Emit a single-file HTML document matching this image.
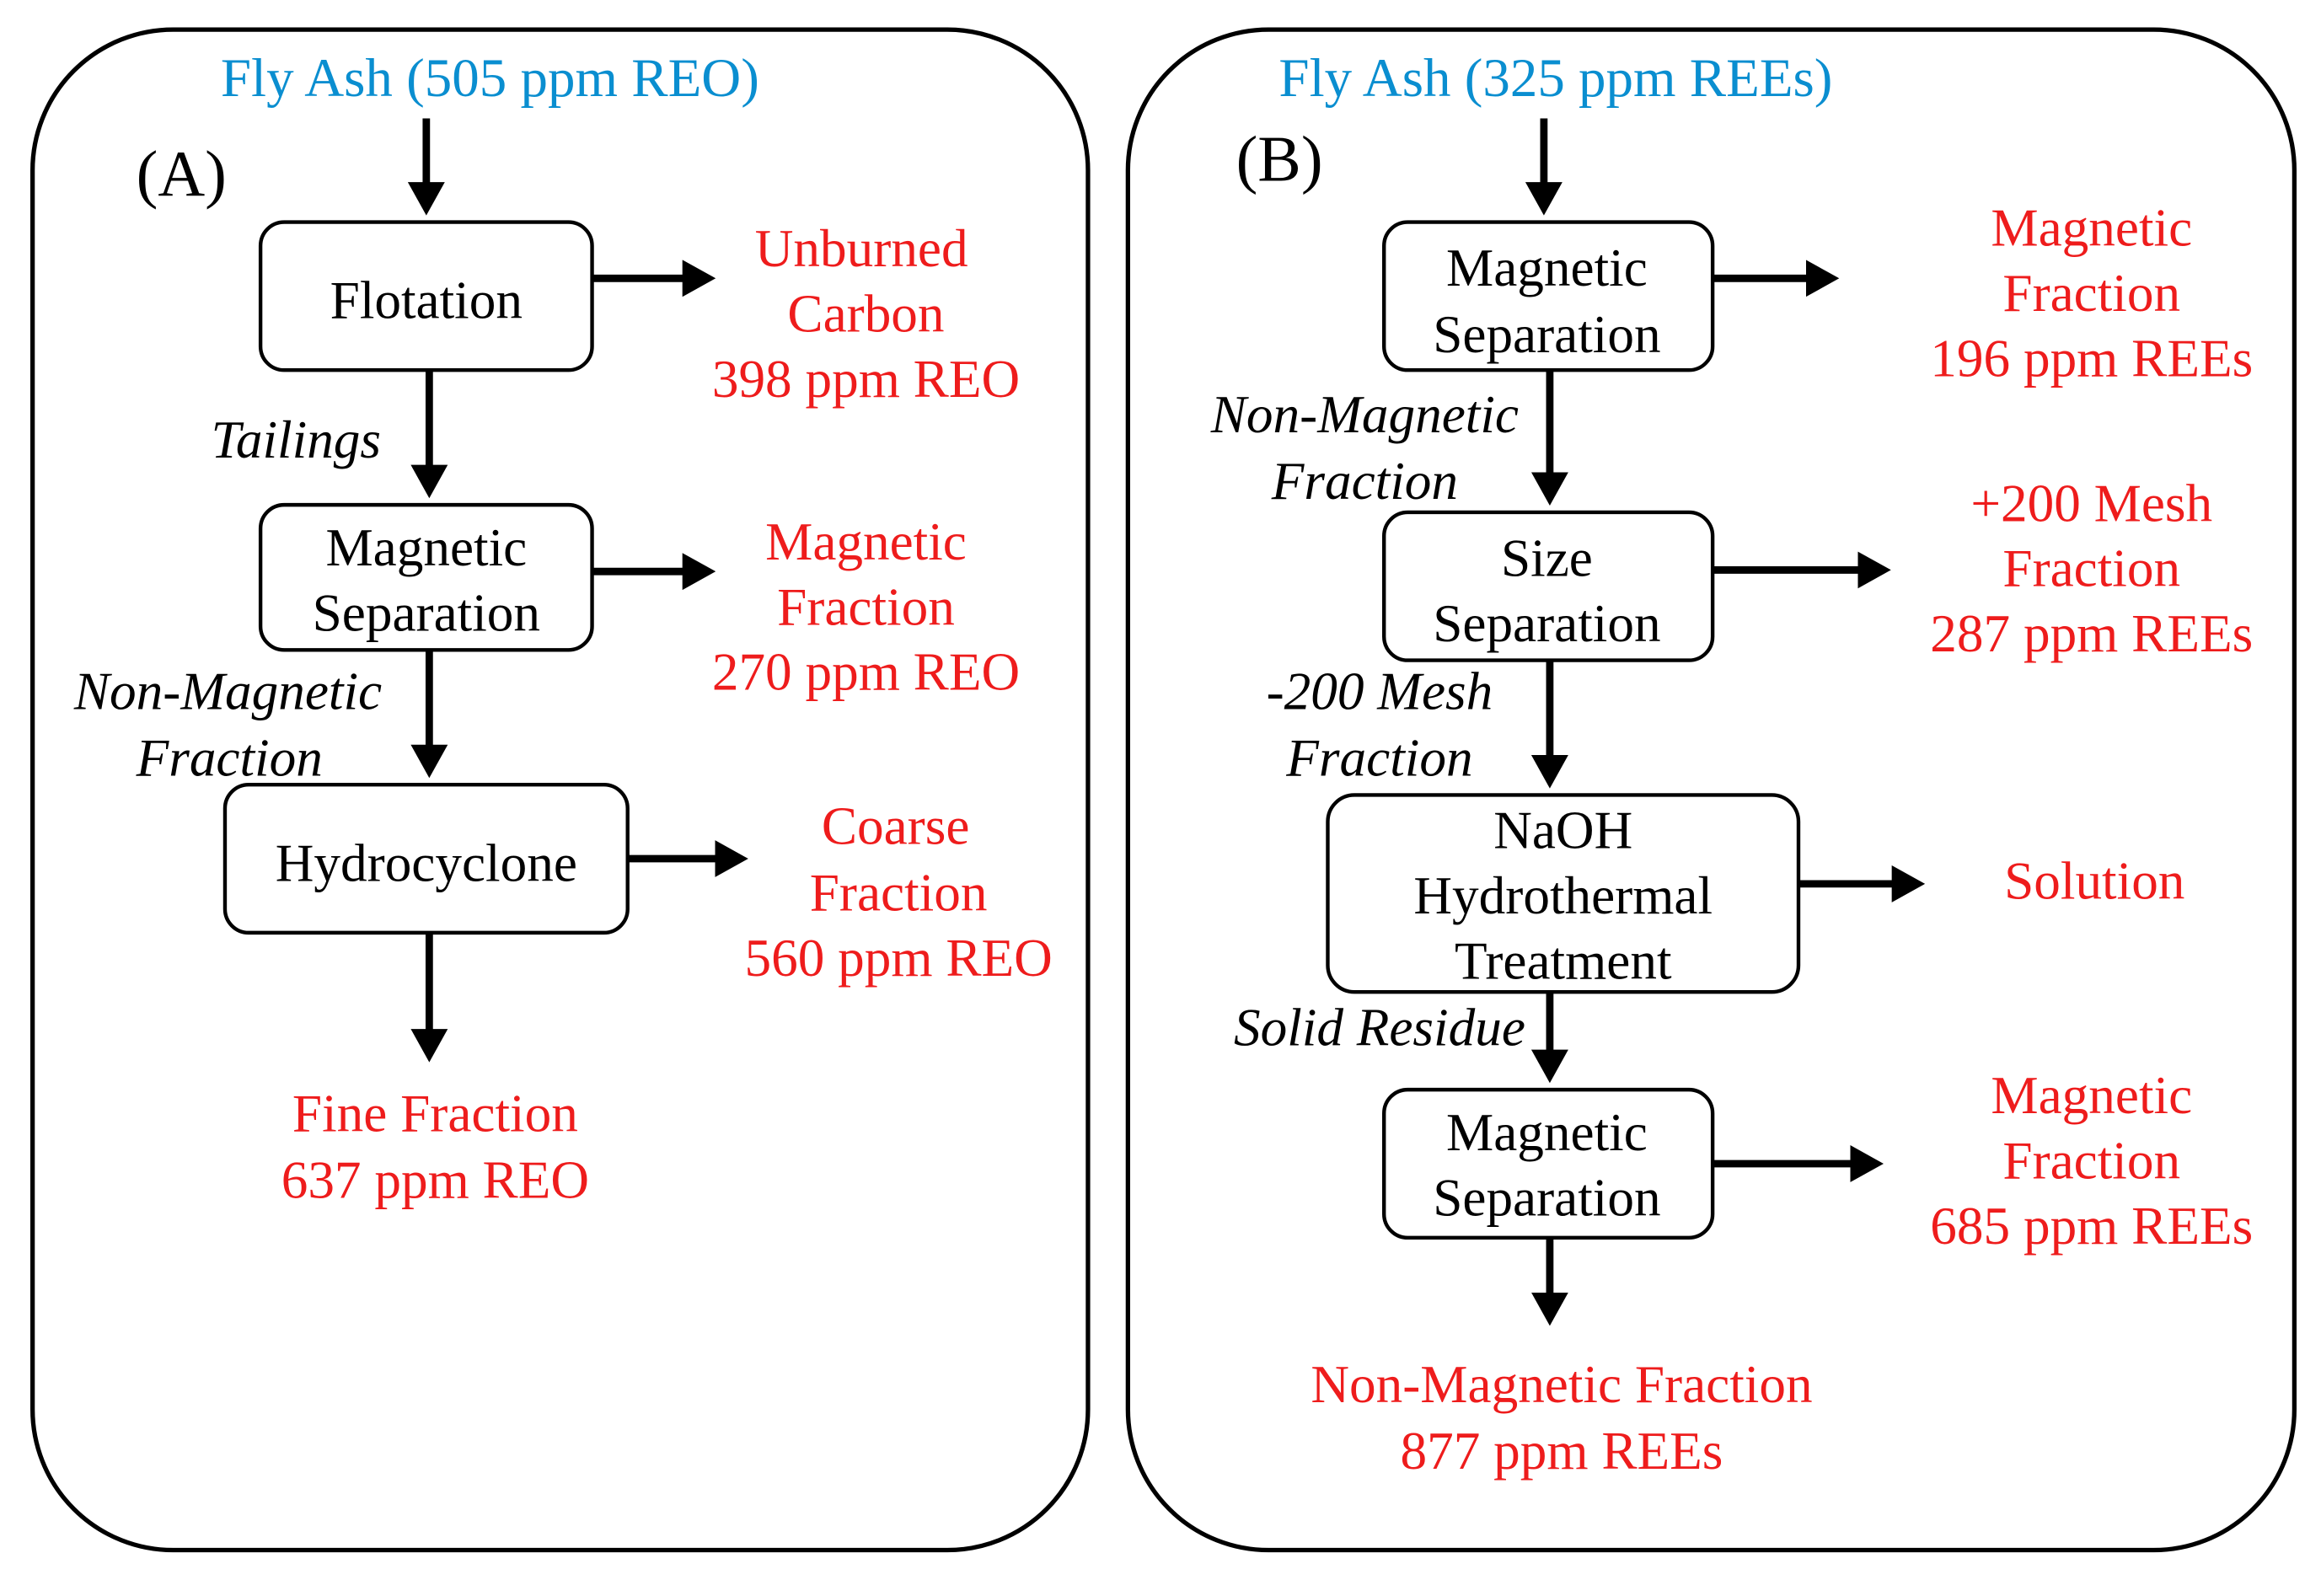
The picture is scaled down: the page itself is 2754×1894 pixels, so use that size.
<!DOCTYPE html>
<html><head><meta charset="utf-8"><style>html,body{margin:0;padding:0;background:#fff}svg{display:block}</style></head>
<body>
<svg width="2754" height="1894" viewBox="0 0 1568 1078" preserveAspectRatio="none" xmlns="http://www.w3.org/2000/svg" font-family="Liberation Serif, serif">
<defs><marker id="a" markerWidth="5" markerHeight="5" refX="1" refY="2.5" orient="auto" markerUnits="strokeWidth"><path d="M0,0 L4.5,2.5 L0,5z" fill="#000"/></marker></defs>
<g fill="none" stroke="#000" stroke-width="3">
<rect x="22" y="20" width="713" height="1027" rx="95"/>
<rect x="762" y="20" width="788" height="1027" rx="95"/>
<g stroke-width="2.5">
<rect x="176" y="150" width="224" height="100" rx="16"/>
<rect x="176" y="341" width="224" height="98" rx="16"/>
<rect x="152" y="530" width="272" height="100" rx="16"/>
<rect x="935" y="150" width="222" height="100" rx="16"/>
<rect x="935" y="346" width="222" height="100" rx="16"/>
<rect x="897" y="537" width="318" height="133" rx="18"/>
<rect x="935" y="736" width="222" height="100" rx="16"/>
</g>
<g stroke-width="5" marker-end="url(#a)">
<line x1="288" y1="80" x2="288" y2="128"/>
<line x1="290" y1="250" x2="290" y2="319"/>
<line x1="290" y1="439" x2="290" y2="508"/>
<line x1="290" y1="630" x2="290" y2="700"/>
<line x1="400" y1="188" x2="466" y2="188"/>
<line x1="400" y1="386" x2="466" y2="386"/>
<line x1="424" y1="580" x2="488" y2="580"/>
<line x1="1043" y1="80" x2="1043" y2="128"/>
<line x1="1047" y1="250" x2="1047" y2="324"/>
<line x1="1047" y1="446" x2="1047" y2="515"/>
<line x1="1047" y1="670" x2="1047" y2="714"/>
<line x1="1047" y1="836" x2="1047" y2="878"/>
<line x1="1157" y1="188" x2="1225" y2="188"/>
<line x1="1157" y1="385" x2="1260" y2="385"/>
<line x1="1215" y1="597" x2="1283" y2="597"/>
<line x1="1157" y1="786" x2="1255" y2="786"/>
</g></g>
<g font-size="37" text-anchor="middle">
<g fill="#0a8ed0"><text x="331" y="65">Fly Ash (505 ppm REO)</text><text x="1051" y="65">Fly Ash (325 ppm REEs)</text></g>
<g fill="#000" font-size="36">
<text x="288" y="215">Flotation</text>
<text x="288" y="382">Magnetic</text><text x="288" y="426">Separation</text>
<text x="288" y="595">Hydrocyclone</text>
<text x="1045" y="193">Magnetic</text><text x="1045" y="238">Separation</text>
<text x="1045" y="389">Size</text><text x="1045" y="433">Separation</text>
<text x="1056" y="573">NaOH</text><text x="1056" y="617">Hydrothermal</text><text x="1056" y="661">Treatment</text>
<text x="1045" y="777">Magnetic</text><text x="1045" y="821">Separation</text>
</g>
<g fill="#ee1c1c" font-size="36">
<text x="582" y="180">Unburned</text><text x="585" y="224">Carbon</text><text x="585" y="268">398 ppm REO</text>
<text x="585" y="378">Magnetic</text><text x="585" y="422">Fraction</text><text x="585" y="466">270 ppm REO</text>
<text x="605" y="570">Coarse</text><text x="607" y="615">Fraction</text><text x="607" y="659">560 ppm REO</text>
<text x="294" y="764">Fine Fraction</text><text x="294" y="809">637 ppm REO</text>
<text x="1413" y="166">Magnetic</text><text x="1413" y="210">Fraction</text><text x="1413" y="254">196 ppm REEs</text>
<text x="1413" y="352">+200 Mesh</text><text x="1413" y="396">Fraction</text><text x="1413" y="440">287 ppm REEs</text>
<text x="1415" y="607">Solution</text>
<text x="1413" y="752">Magnetic</text><text x="1413" y="796">Fraction</text><text x="1413" y="840">685 ppm REEs</text>
<text x="1055" y="947">Non-Magnetic Fraction</text><text x="1055" y="992">877 ppm REEs</text>
</g>
<g fill="#000" font-style="italic" font-size="36">
<text x="200" y="309">Tailings</text>
<text x="154" y="479">Non-Magnetic</text><text x="155" y="524">Fraction</text>
<text x="922" y="292">Non-Magnetic</text><text x="922" y="337">Fraction</text>
<text x="932" y="479">-200 Mesh</text><text x="932" y="524">Fraction</text>
<text x="932" y="706">Solid Residue</text>
</g>
<g fill="#000" font-size="44" text-anchor="start"><text x="92" y="132">(A)</text><text x="835" y="122">(B)</text></g>
</g>
</svg>
</body></html>
